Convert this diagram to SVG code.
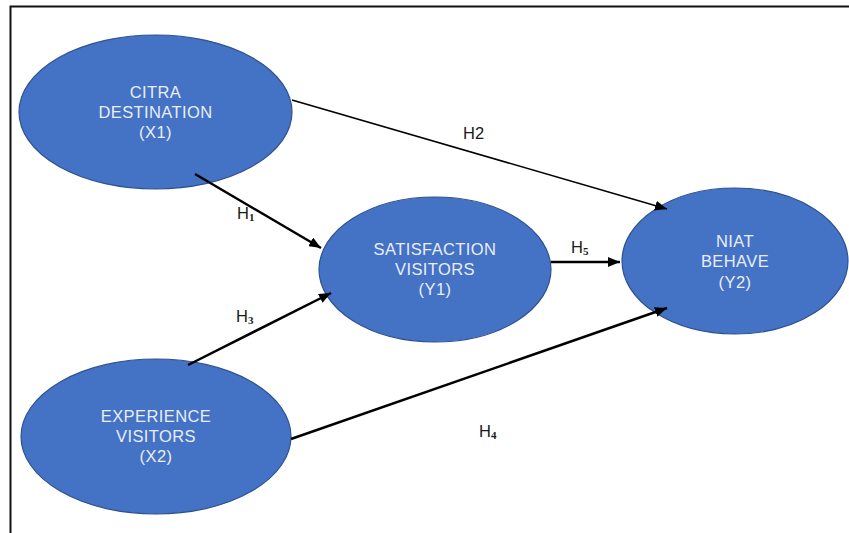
<svg xmlns="http://www.w3.org/2000/svg" width="849" height="533" viewBox="0 0 849 533">
<style>
.node ellipse{fill:#4472C4;stroke:#2F528F;stroke-width:1.2}
.node text{font-family:"Liberation Sans",Arial,sans-serif;font-size:16.5px;letter-spacing:0.4px;fill:#E9EEF8;text-anchor:middle}
.lbl{font-family:"Liberation Sans",Arial,sans-serif;font-size:16.5px;fill:#1a1a1a}
.sub{font-family:"Liberation Serif","Times New Roman",serif;font-size:11px;font-weight:bold}
.c{stroke:#000;fill:none}
</style>
<defs>
<marker id="ah" viewBox="0 0 12 10" refX="12" refY="5" markerWidth="12" markerHeight="10" markerUnits="userSpaceOnUse" orient="auto">
<path d="M0,0 L12,5 L0,10 Z" fill="#000"/>
</marker>
</defs>
<rect width="849" height="533" fill="#fff"/>
<path d="M10.5,533 V6.5 H849" fill="none" stroke="#111" stroke-width="2"/>
<g id="citra" class="node">
<ellipse cx="155.5" cy="112" rx="136.5" ry="77"/>
<text x="155.5" y="98">CITRA</text>
<text x="155.5" y="118">DESTINATION</text>
<text x="155.5" y="138">(X1)</text>
</g>
<g id="satisfaction" class="node">
<ellipse cx="435" cy="269.5" rx="116" ry="72.5"/>
<text x="435" y="255">SATISFACTION</text>
<text x="435" y="275">VISITORS</text>
<text x="435" y="295">(Y1)</text>
</g>
<g id="niat" class="node">
<ellipse cx="735" cy="261" rx="113" ry="73"/>
<text x="735" y="247">NIAT</text>
<text x="735" y="267">BEHAVE</text>
<text x="735" y="288">(Y2)</text>
</g>
<g id="experience" class="node">
<ellipse cx="156" cy="436.5" rx="135" ry="77.5"/>
<text x="156" y="422">EXPERIENCE</text>
<text x="156" y="442">VISITORS</text>
<text x="156" y="462">(X2)</text>
</g>
<g id="connectors">
<line class="c" x1="292" y1="100" x2="667" y2="209" stroke-width="1.5" marker-end="url(#ah)"/>
<line class="c" x1="195" y1="174" x2="321" y2="248" stroke-width="2.5" marker-end="url(#ah)"/>
<line class="c" x1="188" y1="365" x2="331" y2="293" stroke-width="2.5" marker-end="url(#ah)"/>
<line class="c" x1="551" y1="262" x2="620" y2="262" stroke-width="2.5" marker-end="url(#ah)"/>
<line class="c" x1="291" y1="439" x2="667" y2="308" stroke-width="2.5" marker-end="url(#ah)"/>
<text class="lbl" x="463" y="139">H2</text>
<text class="lbl" x="237" y="219">H<tspan class="sub" dy="2">1</tspan></text>
<text class="lbl" x="236" y="322">H<tspan class="sub" dy="2">3</tspan></text>
<text class="lbl" x="571" y="253">H<tspan class="sub" dy="2">5</tspan></text>
<text class="lbl" x="479" y="437">H<tspan class="sub" dy="2">4</tspan></text>
</g>
</svg>
